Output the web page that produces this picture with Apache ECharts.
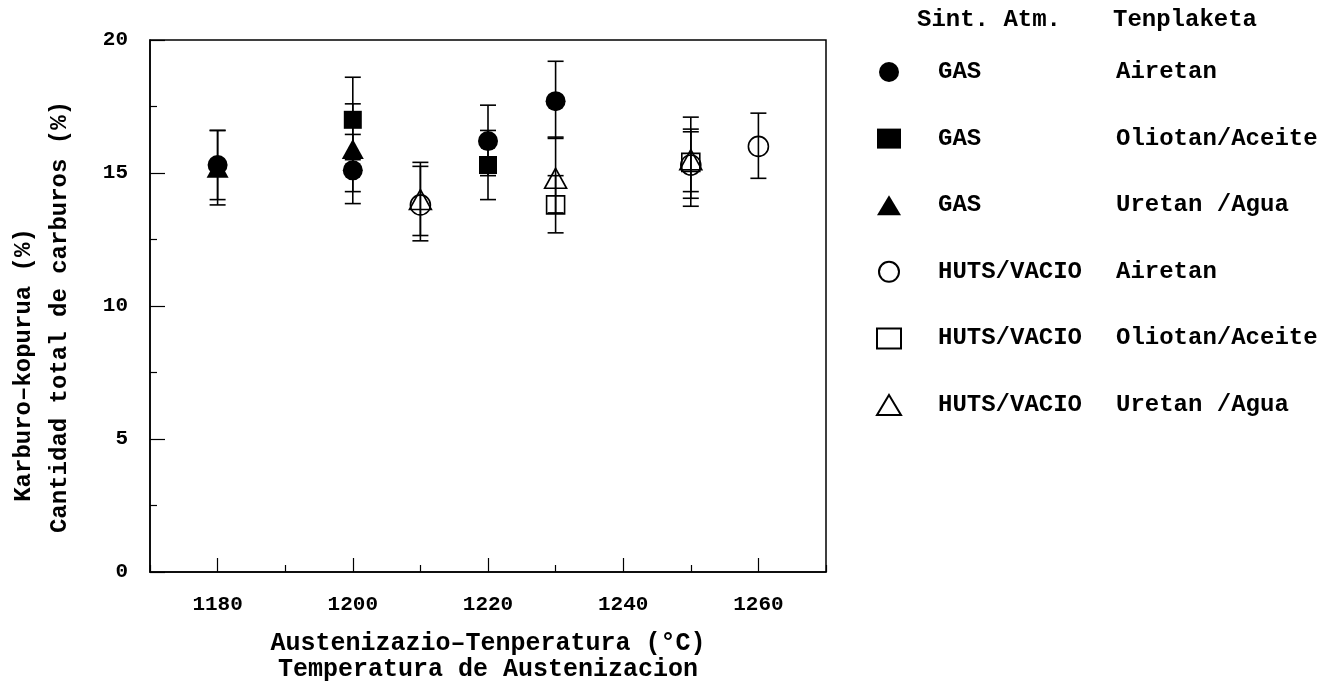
<!DOCTYPE html>
<html>
<head>
<meta charset="utf-8">
<script src="https://cdn.jsdelivr.net/npm/echarts@6/dist/echarts.min.js"></script>
<style>html,body{margin:0;padding:0;background:#fff;}#c{width:1335px;height:688px;}</style>
</head>
<body>
<div id="c"></div>
<script>
// ---- data ----
const xMajorTicks = [1180, 1200, 1220, 1240, 1260];
const xMinorTicks = [1170, 1190, 1210, 1230, 1250, 1270];

const gasAireT = [1180, 1200, 1220, 1230];
const gasAireV = [15.3, 15.1, 16.2, 17.7];
const gasAireLo = [14.0, 13.85, 14.9, 16.3];
const gasAireHi = [16.6, 16.45, 17.55, 19.2];

const gasOlioT = [1200, 1220];
const gasOlioV = [17.0, 15.3];
const gasOlioLo = [15.5, 14.0];
const gasOlioHi = [18.6, 16.6];

const gasUretT = [1180, 1200];
const gasUretV = [15.2, 15.9];
const gasUretLo = [13.8, 14.3];
const gasUretHi = [16.6, 17.6];

const vacAireT = [1210, 1250, 1260];
const vacAireV = [13.8, 15.3, 16.0];
const vacAireLo = [12.45, 14.05, 14.8];
const vacAireHi = [15.25, 16.55, 17.25];

const vacOlioT = [1230, 1250];
const vacOlioV = [13.8, 15.4];
const vacOlioLo = [12.75, 13.75];
const vacOlioHi = [14.9, 17.1];

const vacUretT = [1210, 1230, 1250];
const vacUretV = [14.0, 14.8, 15.5];
const vacUretLo = [12.65, 13.5, 14.3];
const vacUretHi = [15.4, 16.35, 16.65];

const seriesDefs = [
  {name: 'GAS|Airetan', t: gasAireT, v: gasAireV, lo: gasAireLo, hi: gasAireHi, symbol: 'circle', size: 20, filled: true},
  {name: 'GAS|Oliotan/Aceite', t: gasOlioT, v: gasOlioV, lo: gasOlioLo, hi: gasOlioHi, symbol: 'rect', size: 18, filled: true},
  {name: 'GAS|Uretan /Agua', t: gasUretT, v: gasUretV, lo: gasUretLo, hi: gasUretHi, symbol: 'triangle', size: [22, 20], filled: true},
  {name: 'HUTS/VACIO|Airetan', t: vacAireT, v: vacAireV, lo: vacAireLo, hi: vacAireHi, symbol: 'circle', size: 20, filled: false},
  {name: 'HUTS/VACIO|Oliotan/Aceite', t: vacOlioT, v: vacOlioV, lo: vacOlioLo, hi: vacOlioHi, symbol: 'rect', size: 18, filled: false},
  {name: 'HUTS/VACIO|Uretan /Agua', t: vacUretT, v: vacUretV, lo: vacUretLo, hi: vacUretHi, symbol: 'triangle', size: [22, 20], filled: false}
];

const FONT = 'Liberation Mono';
const TXT = {fontFamily: FONT, fontSize: 24, color: '#000', fontWeight: 'bold'};

function errRender(params, api) {
  const x = api.value(0), lo = api.value(1), hi = api.value(2);
  const p1 = api.coord([x, hi]), p2 = api.coord([x, lo]);
  const w = 8;
  const st = {stroke: '#000', lineWidth: 1.6};
  return {type: 'group', children: [
    {type: 'line', shape: {x1: p1[0], y1: p1[1], x2: p2[0], y2: p2[1]}, style: st},
    {type: 'line', shape: {x1: p1[0] - w, y1: p1[1], x2: p1[0] + w, y2: p1[1]}, style: st},
    {type: 'line', shape: {x1: p2[0] - w, y1: p2[1], x2: p2[0] + w, y2: p2[1]}, style: st}
  ]};
}

const series = [];
seriesDefs.forEach(function (d) {
  series.push({
    type: 'custom',
    name: d.name + '_err',
    renderItem: errRender,
    data: d.t.map(function (t, i) { return [t, d.lo[i], d.hi[i]]; }),
    z: 2,
    silent: true
  });
});
seriesDefs.forEach(function (d) {
  series.push({
    type: 'scatter',
    name: d.name,
    symbol: d.symbol,
    symbolSize: d.size,
    data: d.t.map(function (t, i) { return [t, d.v[i]]; }),
    itemStyle: d.filled ? {color: '#000', borderColor: '#000', borderWidth: 0, opacity: 1}
                        : {color: 'rgba(0,0,0,0)', borderColor: '#000', borderWidth: 1.6, opacity: 1},
    z: 3
  });
});

const chart = echarts.init(document.getElementById('c'));
chart.setOption({
  backgroundColor: '#fff',
  animation: false,
  title: [
    {text: 'Sint. Atm.', left: 912, top: 3, textStyle: Object.assign({}, TXT)},
    {text: 'Tenplaketa', left: 1108, top: 3, textStyle: Object.assign({}, TXT)}
  ],
  grid: {left: 150, right: 509, top: 40, bottom: 116, show: true, borderColor: '#000', borderWidth: 1.5,
         backgroundColor: 'transparent', containLabel: false, outerBoundsMode: 'none'},
  legend: {
    orient: 'vertical',
    left: 871,
    top: 55,
    itemWidth: 24,
    itemHeight: 20,
    itemGap: 42.6,
    data: seriesDefs.map(function (d) { return d.name; }),
    formatter: function (name) {
      const parts = name.split('|');
      return '{a|' + parts[0] + '}{b|' + parts[1] + '}';
    },
    textStyle: Object.assign({}, TXT, {
      rich: {
        a: Object.assign({}, TXT, {width: 178, padding: [0, 0, 0, 32]}),
        b: Object.assign({}, TXT)
      }
    }),
    selectedMode: false
  },
  xAxis: [
    {
      type: 'value', min: 1170, max: 1270, interval: 10,
      name: 'Austenizazio\u2013Tenperatura (\u00B0C)\nTemperatura de Austenizacion',
      nameLocation: 'middle', nameGap: 59,
      nameTextStyle: Object.assign({}, TXT, {fontSize: 25, lineHeight: 26}),
      axisLine: {show: true, lineStyle: {color: '#000', width: 1.5}},
      axisTick: {show: true, inside: true, length: 14, customValues: xMajorTicks, lineStyle: {color: '#000', width: 1.2}},
      axisLabel: {show: true, customValues: xMajorTicks, margin: 22, fontFamily: FONT, fontWeight: 'bold', fontSize: 21, color: '#000',
                  formatter: function (v) { return String(v); }},
      splitLine: {show: false}
    },
    {
      type: 'value', min: 1170, max: 1270, interval: 10, position: 'bottom',
      axisLine: {show: false},
      axisTick: {show: true, inside: true, length: 7, customValues: xMinorTicks, lineStyle: {color: '#000', width: 1.2}},
      axisLabel: {show: false},
      splitLine: {show: false}
    }
  ],
  yAxis: {
    type: 'value', min: 0, max: 20, interval: 5,
    name: '{k|Karburo\u2013kopurua (%)}\n{c|Cantidad total de carburos (%)}',
    nameLocation: 'middle', nameGap: 72, nameRotate: 90,
    nameTextStyle: Object.assign({}, TXT, {lineHeight: 36,
      rich: {
        k: Object.assign({}, TXT, {lineHeight: 36, padding: [0, 118, 0, 0]}),
        c: Object.assign({}, TXT, {lineHeight: 36, padding: [0, 22, 0, 0]})
      }}),
    axisLine: {show: true, lineStyle: {color: '#000', width: 1.5}},
    axisTick: {show: true, inside: true, length: 15, lineStyle: {color: '#000', width: 1.2}},
    minorTick: {show: true, splitNumber: 2, length: 7, lineStyle: {color: '#000', width: 1.2}},
    axisLabel: {margin: 22, fontFamily: FONT, fontWeight: 'bold', fontSize: 21, color: '#000'},
    splitLine: {show: false}
  },
  series: series
});
</script>
</body>
</html>
